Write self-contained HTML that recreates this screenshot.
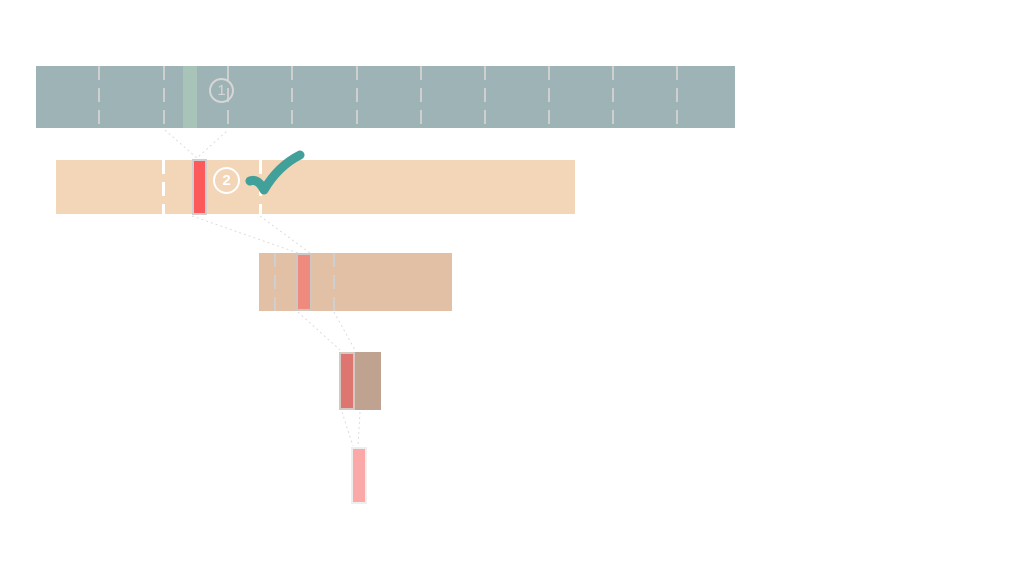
<!DOCTYPE html>
<html><head><style>
body{margin:0;width:1024px;height:576px;background:#fff;overflow:hidden;position:relative;font-family:"Liberation Sans",sans-serif}
div{position:absolute;box-sizing:border-box}
.d{width:2px;background:repeating-linear-gradient(#cfcfcf 0 14px,transparent 14px 22px)}
.w{width:3px;background:repeating-linear-gradient(#fff 0 14px,transparent 14px 22px)}
</style></head><body>
<div style="left:36px;top:66px;width:699px;height:62px;background:#9db3b6"></div>
<div style="left:183px;top:66px;width:14px;height:62px;background:#a8c3b8"></div>
<div class="d" style="left:98px;top:66px;height:62px"></div>
<div class="d" style="left:163px;top:66px;height:62px"></div>
<div class="d" style="left:227px;top:66px;height:62px"></div>
<div class="d" style="left:291px;top:66px;height:62px"></div>
<div class="d" style="left:356px;top:66px;height:62px"></div>
<div class="d" style="left:420px;top:66px;height:62px"></div>
<div class="d" style="left:484px;top:66px;height:62px"></div>
<div class="d" style="left:548px;top:66px;height:62px"></div>
<div class="d" style="left:612px;top:66px;height:62px"></div>
<div class="d" style="left:676px;top:66px;height:62px"></div>
<div style="left:209px;top:78px;width:25px;height:25px;border:2px solid #d6d6d6;border-radius:50%;color:#d6d6d6;font-size:15px;text-align:center;line-height:21px">1</div>

<div style="left:56px;top:160px;width:519px;height:54px;background:#f3d5b8"></div>
<div class="w" style="left:162px;top:160px;height:54px"></div>
<div class="w" style="left:259px;top:160px;height:54px"></div>
<div style="left:192px;top:159px;width:15px;height:56px;background:#fc5a5a;border:2px solid #cfcfcf"></div>
<div style="left:213px;top:167px;width:27px;height:27px;border:2px solid #fff;border-radius:50%;color:#fff;font-size:15px;font-weight:bold;text-align:center;line-height:23px">2</div>
<svg style="position:absolute;left:240px;top:148px" width="70" height="60"><path d="M10 33 Q18 30 24 42 Q38 18 60 7" stroke="#41a09a" stroke-width="9" fill="none" stroke-linecap="round" stroke-linejoin="round"/></svg>

<svg style="position:absolute;left:0;top:0" width="1024" height="576" fill="none" stroke="#ddd" stroke-dasharray="2 3">
<path d="M165 130 L197 158 L228 130"/><path d="M192 216 L298 253"/><path d="M260 216 L310 253"/><path d="M298 312 L340 350"/><path d="M334 312 L355 350"/><path d="M342 412 L353 446"/><path d="M360 412 L358 446"/>
</svg>

<div style="left:259px;top:253px;width:193px;height:58px;background:#e2c0a6"></div>
<div class="d" style="left:274px;top:253px;height:58px"></div>
<div class="d" style="left:333px;top:253px;height:58px"></div>
<div style="left:296px;top:253px;width:16px;height:58px;background:#ef8a7e;border:2px solid #cfc6c0"></div>

<div style="left:339px;top:352px;width:42px;height:58px;background:#c0a291"></div>
<div style="left:339px;top:352px;width:16px;height:58px;background:#dd7670;border:2px solid #d3c9c2"></div>

<div style="left:351px;top:447px;width:16px;height:57px;background:#fba8a8;border:2px solid #eee"></div>
</body></html>
